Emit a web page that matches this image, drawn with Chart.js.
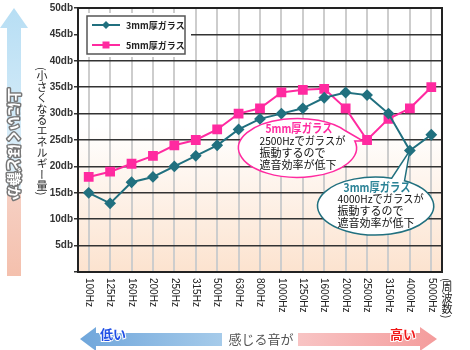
<!DOCTYPE html>
<html>
<head>
<meta charset="utf-8">
<script src="https://cdn.jsdelivr.net/npm/chart.js@4"></script>
<style>
html, body { margin: 0; padding: 0; background: #fff; }
#wrap { position: relative; width: 470px; height: 350px; }
.vtext { position: absolute; writing-mode: vertical-rl; font-family: "Noto Sans CJK JP", sans-serif; line-height: 1; color: #222; }
</style>
</head>
<body>
<div id="wrap">
    <canvas id="chart" width="470" height="350"></canvas>
    <div class="vtext" style="left:36px; top:67px; font-size:11px;">(小さくなるエネルギー量)</div>
    <div class="vtext" style="left:441px; top:278px; font-size:11px;">(周波数)</div>
</div>
<script>
// データ
const categories = ['100Hz', '125Hz', '160Hz', '200Hz', '250Hz', '315Hz', '500Hz', '630Hz', '800Hz',
    '1000Hz', '1250Hz', '1600Hz', '2000Hz', '2500Hz', '3150Hz', '4000Hz', '5000Hz'];
const glass3mm = [15, 13, 17, 18, 20, 22, 24, 27, 29, 30, 31, 33, 34, 33.5, 30, 23, 26];
const glass5mm = [18, 19, 20.5, 22, 24, 25, 27, 30, 31, 34, 34.5, 34.7, 31, 25, 29, 31, 35];
const yTicks = [5, 10, 15, 20, 25, 30, 35, 40, 45, 50];

const color3mm = '#21707f';
const color5mm = '#ff2aa0';
const jp = '"Noto Sans CJK JP", sans-serif';

// 背景（白→薄いオレンジ）
const bgPlugin = {
    id: 'bg',
    beforeDraw(chart) {
        const { ctx, chartArea: a } = chart;
        ctx.save();
        ctx.fillStyle = '#fff';
        ctx.fillRect(0, 0, chart.width, chart.height);
        const g = ctx.createLinearGradient(0, a.top, 0, a.bottom);
        g.addColorStop(0, '#ffffff');
        g.addColorStop(0.45, '#ffffff');
        g.addColorStop(1, '#fce3cf');
        ctx.fillStyle = g;
        ctx.fillRect(a.left, a.top, a.right - a.left, a.bottom - a.top);
        ctx.restore();
    }
};

function drawBubble(ctx, cx, cy, rx, ry, a1, a2, tip, stroke) {
    ctx.beginPath();
    ctx.ellipse(cx, cy, rx, ry, 0, a2, a1 + Math.PI * 2);
    ctx.lineTo(tip.x, tip.y);
    ctx.closePath();
    ctx.fillStyle = '#fff';
    ctx.fill();
    ctx.lineWidth = 1.5;
    ctx.strokeStyle = stroke;
    ctx.stroke();
}

// 幅を指定して文字を描く（はみ出す時だけ横に詰める）
function fitText(ctx, text, x, y, maxW) {
    const w = ctx.measureText(text).width;
    ctx.save();
    ctx.translate(x, y);
    if (w > maxW) ctx.scale(maxW / w, 1);
    ctx.fillText(text, 0, 0);
    ctx.restore();
}

function drawBubbleText(ctx, cx, cy, title, titleColor, lines) {
    ctx.textAlign = 'left';
    ctx.textBaseline = 'middle';
    ctx.font = 'bold 12px ' + jp;
    ctx.fillStyle = titleColor;
    fitText(ctx, title, cx - 32, cy - 19, 67);
    ctx.font = '11px ' + jp;
    ctx.fillStyle = '#111';
    lines.forEach((t, i) => fitText(ctx, t, cx - 38, cy - 7 + i * 12, 86));
}

function drawHArrow(ctx, x0, x1, dir, grad) {
    // dir = -1: 左向き, 1: 右向き
    const tipX = dir < 0 ? x0 : x1;
    const baseX = dir < 0 ? x0 + 16 : x1 - 17;
    const tailX = dir < 0 ? x1 : x0;
    ctx.beginPath();
    ctx.moveTo(tailX, 333);
    ctx.lineTo(baseX, 333);
    ctx.lineTo(baseX, 327);
    ctx.lineTo(tipX, 339);
    ctx.lineTo(baseX, 351);
    ctx.lineTo(baseX, 346);
    ctx.lineTo(tailX, 346);
    ctx.closePath();
    ctx.fillStyle = grad;
    ctx.fill();
}

const decoPlugin = {
    id: 'deco',
    afterDraw(chart) {
        const { ctx, chartArea: a, scales } = chart;
        const xs = scales.x, ys = scales.y;
        ctx.save();

        // 枠
        ctx.strokeStyle = '#222';
        ctx.lineWidth = 2;
        ctx.strokeRect(a.left, a.top, a.right - a.left, a.bottom - a.top);

        // 凡例
        ctx.fillStyle = '#fff';
        ctx.fillRect(a.left + 1, a.top + 5, 112, 44);
        ctx.strokeStyle = '#555';
        ctx.lineWidth = 1.5;
        ctx.strokeRect(87, 16, 98, 38);
        chart.data.datasets.forEach((ds, i) => {
            const y = 25 + i * 20;
            ctx.strokeStyle = ds.borderColor;
            ctx.lineWidth = 2;
            ctx.beginPath();
            ctx.moveTo(92, y);
            ctx.lineTo(120, y);
            ctx.stroke();
            ctx.fillStyle = ds.borderColor;
            ctx.beginPath();
            if (ds.pointStyle === 'rectRot') {
                ctx.moveTo(106, y - 4); ctx.lineTo(110, y); ctx.lineTo(106, y + 4); ctx.lineTo(102, y);
            } else {
                ctx.rect(102.5, y - 3.5, 7, 7);
            }
            ctx.fill();
            ctx.fillStyle = '#222';
            ctx.font = 'bold 9px ' + jp;
            ctx.textAlign = 'left';
            ctx.textBaseline = 'middle';
            ctx.fillText(ds.label, 126, y + 1);
        });

        // 吹き出し 5mm
        let cx = xs.getPixelForValue(9.75), cy = ys.getPixelForValue(23.5);
        let tip = { x: xs.getPixelForValue(13) - 4, y: ys.getPixelForValue(25) + 1 };
        drawBubble(ctx, cx, cy, 59, 29.5, -0.61, -0.24, tip, color5mm);
        drawBubbleText(ctx, cx, cy, '5mm厚ガラス', color5mm, ['2500Hzでガラスが', '振動するので', '遮音効率が低下']);

        // 吹き出し 3mm
        cx = xs.getPixelForValue(13.4); cy = ys.getPixelForValue(12.5);
        tip = { x: xs.getPixelForValue(15), y: ys.getPixelForValue(23) };
        drawBubble(ctx, cx, cy, 58, 29, -1.29, -1.05, tip, color3mm);
        drawBubbleText(ctx, cx, cy, '3mm厚ガラス', '#2a8296', ['4000Hzでガラスが', '振動するので', '遮音効率が低下']);

        // x軸ラベル（縦書き）
        ctx.font = '10px "Liberation Sans", Arial, sans-serif';
        ctx.fillStyle = '#222';
        ctx.textAlign = 'left';
        ctx.textBaseline = 'middle';
        categories.forEach((c, i) => {
            ctx.save();
            ctx.translate(xs.getPixelForValue(i), a.bottom + 6);
            ctx.rotate(Math.PI / 2);
            ctx.fillText(c, 0, 0);
            ctx.restore();
        });

        // 左の矢印
        const vg = ctx.createLinearGradient(0, 8, 0, 276);
        vg.addColorStop(0, '#b7def4');
        vg.addColorStop(0.68, '#e4f2fa');
        vg.addColorStop(0.7, '#f6cfc2');
        vg.addColorStop(1, '#f4c0ad');
        ctx.fillStyle = vg;
        ctx.beginPath();
        ctx.moveTo(14, 8);
        ctx.lineTo(28, 28);
        ctx.lineTo(21, 28);
        ctx.lineTo(21, 276);
        ctx.lineTo(7, 276);
        ctx.lineTo(7, 28);
        ctx.lineTo(0, 28);
        ctx.closePath();
        ctx.fill();

        ctx.save();
        ctx.translate(14, 88);
        ctx.rotate(Math.PI / 2);
        ctx.font = 'bold 14px ' + jp;
        ctx.textAlign = 'left';
        ctx.textBaseline = 'middle';
        ctx.lineJoin = 'round';
        ctx.strokeStyle = '#777';
        ctx.lineWidth = 3;
        ctx.strokeText('上にいくほど静か', 0, 0);
        ctx.fillStyle = '#fff';
        ctx.fillText('上にいくほど静か', 0, 0);
        ctx.restore();

        // 下の矢印
        const lg = ctx.createLinearGradient(80, 0, 222, 0);
        lg.addColorStop(0, '#6fa6db');
        lg.addColorStop(1, '#a6cbea');
        drawHArrow(ctx, 80, 222, -1, lg);
        const rg = ctx.createLinearGradient(298, 0, 437, 0);
        rg.addColorStop(0, '#f8c4c4');
        rg.addColorStop(1, '#f49c9c');
        drawHArrow(ctx, 298, 437, 1, rg);

        ctx.textBaseline = 'middle';
        ctx.font = 'bold 13px ' + jp;
        ctx.lineWidth = 2;
        ctx.strokeStyle = '#fff';
        ctx.textAlign = 'left';
        ctx.strokeText('低い', 100, 334);
        ctx.fillStyle = '#1f4fe6';
        ctx.fillText('低い', 100, 334);
        ctx.strokeText('高い', 390, 334);
        ctx.fillStyle = '#f01818';
        ctx.fillText('高い', 390, 334);

        ctx.font = '13px ' + jp;
        ctx.fillStyle = '#555';
        ctx.textAlign = 'center';
        ctx.fillText('感じる音が', 261, 339);

        ctx.restore();
    }
};

new Chart(document.getElementById('chart'), {
    type: 'line',
    data: {
        labels: categories,
        datasets: [
            {
                label: '3mm厚ガラス',
                data: glass3mm,
                borderColor: color3mm,
                backgroundColor: color3mm,
                borderWidth: 2,
                pointStyle: 'rectRot',
                pointRadius: 4.5,
                tension: 0
            },
            {
                label: '5mm厚ガラス',
                data: glass5mm,
                borderColor: color5mm,
                backgroundColor: color5mm,
                borderWidth: 2,
                pointStyle: 'rect',
                pointRadius: 5.5,
                tension: 0
            }
        ]
    },
    options: {
        responsive: false,
        animation: false,
        layout: { padding: { top: 8, right: 28, left: 0, bottom: 0 } },
        plugins: { legend: { display: false }, tooltip: { enabled: false } },
        scales: {
            x: {
                offset: true,
                grid: { color: '#cdcdcd', lineWidth: 2, drawTicks: false },
                border: { color: '#222', width: 2 },
                ticks: { display: false },
                afterFit: s => { s.height = 78; }
            },
            y: {
                min: 0,
                max: 50,
                afterBuildTicks: s => { s.ticks = [0].concat(yTicks).map(v => ({ value: v })); },
                grid: { color: '#333', lineWidth: 1.5, tickLength: 4 },
                border: { color: '#222', width: 2 },
                ticks: {
                    padding: 1,
                    color: '#333',
                    font: { family: '"Liberation Sans", Arial, sans-serif', size: 10, weight: 'bold' },
                    callback: v => v === 0 ? '' : v + 'db'
                },
                afterFit: s => { s.width = 78; }
            }
        }
    },
    plugins: [bgPlugin, decoPlugin]
});
</script>
</body>
</html>
